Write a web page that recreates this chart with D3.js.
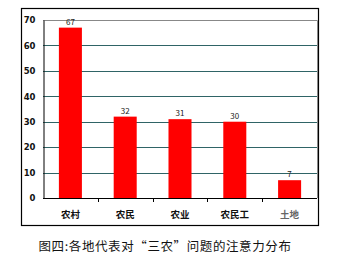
<!DOCTYPE html>
<html>
<head>
    <meta charset="utf-8">
    <style>
        body { margin: 0; background: #fff; }
        svg { display: block; font-family: 'Noto Sans CJK SC', 'DejaVu Sans', sans-serif; }
    </style>
</head>
<body>
    <svg width="337" height="260"></svg>
<script src="https://d3js.org/d3.v7.min.js"></script>
<script>
    // data
    let categories = ["农村", "农民", "农业", "农民工", "土地"];
    let values = [67, 32, 31, 30, 7];
    let yTicks = [0, 10, 20, 30, 40, 50, 60, 70];
    let title = "图四:各地代表对“三农”问题的注意力分布";

    let svg = d3.select("svg");

    let plotLeft = 43, plotRight = 317, plotTop = 20, plotBottom = 198;

    // outer frame
    svg.append("rect")
        .attr("x", 21.5).attr("y", 8.5)
        .attr("width", 297).attr("height", 217)
        .attr("fill", "none").attr("stroke", "#000").attr("stroke-width", 1.2);

    let x = d3.scaleBand()
        .domain(categories)
        .range([plotLeft, plotRight])
        .paddingInner(0.58)
        .paddingOuter(0.29);

    let y = d3.scaleLinear()
        .domain([0, 70])
        .range([plotBottom, plotTop]);

    // grid lines
    svg.append("g")
        .selectAll("line")
        .data(yTicks.filter(d => d > 0 && d < 70))
        .join("line")
        .attr("x1", plotLeft).attr("x2", plotRight)
        .attr("y1", d => Math.round(y(d)) + 0.5)
        .attr("y2", d => Math.round(y(d)) + 0.5)
        .attr("stroke", "#2f6466").attr("stroke-width", 1);

    // plot border top and right
    svg.append("path")
        .attr("d", `M${plotLeft},${plotTop + 0.5}H${plotRight + 0.5}V${plotBottom}`)
        .attr("fill", "none").attr("stroke", "#888");

    // bars
    svg.append("g")
        .selectAll("rect")
        .data(values)
        .join("rect")
        .attr("x", (d, i) => x(categories[i]))
        .attr("width", x.bandwidth())
        .attr("y", d => y(d))
        .attr("height", d => y(0) - y(d))
        .attr("fill", "#ff0000");

    // value labels
    svg.append("g")
        .selectAll("text")
        .data(values)
        .join("text")
        .attr("x", (d, i) => x(categories[i]) + x.bandwidth() / 2)
        .attr("y", d => y(d) - 3)
        .attr("text-anchor", "middle")
        .attr("font-size", 8)
        .attr("fill", "#222")
        .text(d => d);

    // y axis
    let yAxis = svg.append("g")
        .attr("transform", `translate(${plotLeft + 0.5},0)`)
        .call(d3.axisLeft(y).tickValues(yTicks).tickSize(0).tickPadding(8));
    yAxis.select(".domain").attr("stroke", "#000");
    yAxis.selectAll("text")
        .attr("font-size", 8.5).attr("font-weight", "bold")
        .attr("font-family", "'DejaVu Sans', sans-serif")
        .attr("fill", "#111");

    // x axis with ticks at band boundaries
    let step = x.step();
    let xa = svg.append("g");
    xa.append("line")
        .attr("x1", plotLeft).attr("x2", plotRight)
        .attr("y1", plotBottom + 0.5).attr("y2", plotBottom + 0.5)
        .attr("stroke", "#000");
    xa.selectAll("line.tick")
        .data(d3.range(1, categories.length))
        .join("line")
        .attr("class", "tick")
        .attr("x1", d => Math.round(plotLeft + d * step) + 0.5)
        .attr("x2", d => Math.round(plotLeft + d * step) + 0.5)
        .attr("y1", plotBottom).attr("y2", plotBottom + 4)
        .attr("stroke", "#000");
    xa.selectAll("text")
        .data(categories)
        .join("text")
        .attr("x", d => x(d) + x.bandwidth() / 2)
        .attr("y", 218)
        .attr("text-anchor", "middle")
        .attr("font-size", 9.5)
        .attr("font-weight", "bold")
        .attr("fill", (d, i) => i === categories.length - 1 ? "#666" : "#111")
        .text(d => d);

    // caption
    svg.append("text")
        .attr("x", 165)
        .attr("y", 251)
        .attr("text-anchor", "middle")
        .attr("font-size", 12.5)
        .attr("letter-spacing", 0.6)
        .attr("fill", "#111")
        .text(title);
</script>
</body>
</html>
